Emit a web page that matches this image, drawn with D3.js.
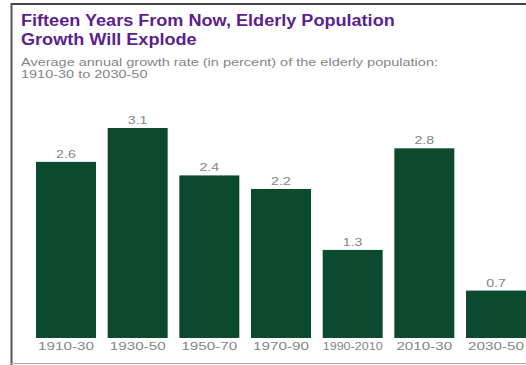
<!DOCTYPE html>
<html><head><meta charset="utf-8">
<script src="https://cdn.jsdelivr.net/npm/d3@7"></script>
<style>body{margin:0;background:#fff;} svg{display:block;}</style>
</head><body><svg id="c" width="526" height="365"></svg>
<script>
const categories = ["1910-30","1930-50","1950-70","1970-90","1990-2010","2010-30","2030-50"];
const values = [2.6,3.1,2.4,2.2,1.3,2.8,0.7];
const valueLabels = ["2.6","3.1","2.4","2.2","1.3","2.8","0.7"];
const titleLines = ["Fifteen Years From Now, Elderly Population","Growth Will Explode"];
const subtitleLines = ["Average annual growth rate (in percent) of the elderly population:","1910-30 to 2030-50"];

const FONT = "Liberation Sans, Arial, sans-serif";
const svg = d3.select("#c");

// stretch text horizontally (reference is a wide-stretched image)
function stretch(sel, sx, maxW) {
  sel.each(function() {
    const w = this.getComputedTextLength();
    let t = w * sx;
    if (maxW && t > maxW) t = maxW;
    d3.select(this).attr("textLength", t).attr("lengthAdjust", "spacingAndGlyphs");
  });
}

// frame
svg.append("line").attr("x1",11).attr("x2",526).attr("y1",4).attr("y2",4).attr("stroke","#444").attr("stroke-width",2);
svg.append("line").attr("x1",11.5).attr("x2",11.5).attr("y1",3).attr("y2",365).attr("stroke","#555").attr("stroke-width",2);
svg.append("line").attr("x1",11).attr("x2",526).attr("y1",363.5).attr("y2",363.5).attr("stroke","#aaa").attr("stroke-width",1);

const x = d3.scaleBand().domain(categories).range([36,526]).paddingInner(0.163).paddingOuter(0);
const y = d3.scaleLinear().domain([0,3.1]).range([338,128]);

svg.selectAll("text.title").data(titleLines).enter().append("text").attr("class","title")
  .attr("x",21).attr("y",(d,i)=>26+i*18.5)
  .attr("font-family",FONT).attr("font-weight","bold")
  .attr("font-size",16).attr("fill","#5b1f8f").text(d=>d)
  .call(stretch, 1.13);

svg.selectAll("text.sub").data(subtitleLines).enter().append("text").attr("class","sub")
  .attr("x",21).attr("y",(d,i)=>66+i*12)
  .attr("font-family",FONT)
  .attr("font-size",10.5).attr("fill","#858585").text(d=>d)
  .call(stretch, 1.38);

svg.selectAll("rect.bar").data(values).enter().append("rect").attr("class","bar")
  .attr("x",(d,i)=>x(categories[i])).attr("width",x.bandwidth())
  .attr("y",d=>y(d)).attr("height",d=>y(0)-y(d)).attr("fill","#0b4a2f");

svg.selectAll("text.val").data(values).enter().append("text").attr("class","val")
  .attr("x",(d,i)=>x(categories[i])+x.bandwidth()/2).attr("y",d=>y(d)-4)
  .attr("text-anchor","middle").attr("font-family",FONT)
  .attr("font-size",10.5).attr("fill","#858585").text((d,i)=>valueLabels[i])
  .call(stretch, 1.35);

const ax = svg.append("g").attr("transform","translate(0,338)").call(d3.axisBottom(x).tickSize(0).tickPadding(5));
ax.select(".domain").remove();
ax.selectAll("text").attr("font-family",FONT).attr("font-size",10.5).attr("fill","#858585")
  .call(stretch, 1.45, x.bandwidth());
</script></body></html>
